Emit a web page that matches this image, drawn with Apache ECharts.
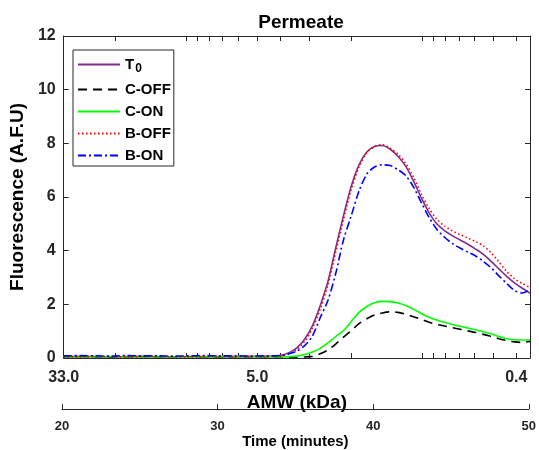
<!DOCTYPE html>
<html>
<head>
<meta charset="utf-8">
<script src="https://cdn.jsdelivr.net/npm/echarts@6/dist/echarts.min.js"></script>
<style>
html,body{margin:0;padding:0;background:#fff;}
#chart{width:539px;height:450px;}
</style>
</head>
<body>
<div id="chart"></div>
<script>
// Elution time (minutes)
var times = [20,21,22,23,24,25,26,27,28,29,30,31,32,33,
  33.5,34,34.5,35,35.5,36,36.5,37,37.5,38,38.5,39,39.5,40,40.5,41,41.5,42,42.5,43,43.5,44,44.5,45,45.5,46,46.5,47,47.5,48,48.5,49,49.5,50];

var seriesNames = ['T0','C-OFF','C-ON','B-OFF','B-ON'];

var T0 = [0.05,0.06,0.05,0.04,0.05,0.06,0.05,0.04,0.05,0.05,0.04,0.05,0.06,0.06,
  0.07,0.10,0.20,0.38,0.70,1.20,1.95,2.85,4.10,5.30,6.40,7.20,7.68,7.88,7.92,7.78,7.52,7.15,6.60,5.98,5.42,5.00,4.75,4.56,4.40,4.24,4.06,3.86,3.60,3.32,3.04,2.80,2.60,2.42];

var C_OFF = [0.03,0.04,0.03,0.03,0.04,0.03,0.03,0.04,0.03,0.03,0.04,0.03,0.03,0.03,
  0.03,0.03,0.03,0.03,0.04,0.06,0.16,0.30,0.52,0.78,1.02,1.28,1.46,1.60,1.68,1.72,1.70,1.63,1.54,1.44,1.33,1.25,1.19,1.13,1.07,1.01,0.95,0.88,0.80,0.72,0.65,0.60,0.58,0.62];

var C_ON = [0.04,0.03,0.04,0.05,0.04,0.03,0.04,0.04,0.03,0.04,0.05,0.04,0.04,0.04,
  0.04,0.04,0.05,0.07,0.13,0.22,0.36,0.56,0.80,1.02,1.36,1.70,1.92,2.06,2.11,2.10,2.05,1.96,1.82,1.66,1.52,1.42,1.33,1.25,1.18,1.12,1.05,0.98,0.90,0.80,0.72,0.68,0.67,0.67];

var B_OFF = [0.05,0.04,0.06,0.05,0.04,0.05,0.06,0.05,0.04,0.05,0.06,0.05,0.05,0.05,
  0.06,0.08,0.16,0.32,0.62,1.10,1.82,2.72,3.95,5.15,6.28,7.12,7.65,7.88,7.95,7.82,7.60,7.25,6.75,6.12,5.58,5.18,4.92,4.74,4.60,4.47,4.34,4.18,3.92,3.58,3.22,2.96,2.78,2.62];

var B_ON = [0.08,0.09,0.08,0.07,0.09,0.08,0.08,0.07,0.08,0.09,0.08,0.08,0.07,0.08,
  0.08,0.10,0.16,0.26,0.46,0.82,1.50,2.15,3.15,4.40,5.30,6.22,6.85,7.12,7.20,7.17,7.02,6.80,6.38,5.80,5.25,4.80,4.50,4.27,4.10,3.95,3.80,3.60,3.36,3.06,2.78,2.52,2.42,2.55];

// AMW (kDa) axis (log scale, reversed)
var amwRange = [33, 0.35];
var amwLabels = [33, 5, 0.4];
var amwTicks = [33,20,10,9,8,7,6,5,4,3,2,1,0.9,0.8,0.7,0.6,0.5,0.4];

// Time axis
var timeRange = [20, 50];
var timeInterval = 10;

// Fluorescence axis
var yRange = [0, 12];
var yInterval = 2;

var FONT = '"Liberation Sans", Arial, Helvetica, sans-serif';
var AX = '#262626';

function zip(xs, ys){ return xs.map(function(x,i){ return [x, ys[i]]; }); }
function lg(v){ return Math.log10(v); }

var styles = {
  'T0':    {color:'#7E2F8E', type:'solid', width:1.6},
  'C-OFF': {color:'#000000', type:[9,6], width:1.6},
  'C-ON':  {color:'#00FF00', type:'solid', width:1.6},
  'B-OFF': {color:'#FF0000', type:[1.5,2.5], width:1.6},
  'B-ON':  {color:'#0000FF', type:[8,3,2,3], width:1.6}
};
var dataMap = {'T0':T0,'C-OFF':C_OFF,'C-ON':C_ON,'B-OFF':B_OFF,'B-ON':B_ON};

var series = seriesNames.map(function(n){
  return {
    name: n, type: 'line', xAxisIndex: 0, yAxisIndex: 0,
    data: zip(times, dataMap[n]),
    smooth: 0.3, symbol: 'none', showSymbol: false,
    lineStyle: {color: styles[n].color, type: styles[n].type, width: styles[n].width},
    itemStyle: {color: styles[n].color},
    animation: false
  };
});

var amwAxisCommon = {
  gridIndex: 0, type: 'value', inverse: true,
  min: lg(amwRange[1]), max: lg(amwRange[0]),
  splitLine: {show:false},
  axisLine: {show:true, onZero:false, lineStyle:{color:AX, width:1}}
};

var option = {
  animation: false,
  backgroundColor: '#ffffff',
  title: {
    text: 'Permeate', left: 296, top: 8, textAlign: 'center',
    textStyle: {fontFamily: FONT, fontSize: 19, fontWeight: 'bold', color: '#000'}
  },
  legend: {
    orient: 'vertical', left: 73, top: 50,
    padding: [7, 3, 3, 4], itemGap: 7, itemWidth: 42, itemHeight: 14,
    borderColor: AX, borderWidth: 1, backgroundColor: '#fff',
    itemStyle: {opacity: 0},
    data: seriesNames,
    formatter: function(n){ return n === 'T0' ? '{b|T}{s|0}' : '{b|' + n + '}'; },
    textStyle: {
      fontFamily: FONT, fontSize: 15, fontWeight: 'bold', color: '#000',
      rich: {
        b: {fontFamily: FONT, fontSize: 15, fontWeight: 'bold', color: '#000'},
        s: {fontFamily: FONT, fontSize: 12, fontWeight: 'bold', color: '#000', padding: [9,0,0,1]}
      }
    }
  },
  grid: [
    {left: 62, right: 9, top: 36, bottom: 92, containLabel: false},
    {left: 62, right: 9, top: 395, bottom: 35, containLabel: false}
  ],
  xAxis: [
    {gridIndex: 0, type: 'value', min: timeRange[0], max: timeRange[1], show: false},
    Object.assign({}, amwAxisCommon, {
      position: 'bottom',
      axisTick: {show:true, inside:true, length:5, lineStyle:{color:AX}, customValues: amwTicks.map(lg)},
      axisLabel: {
        show: true, margin: 12, customValues: amwLabels.map(lg),
        formatter: function(v){ return Math.pow(10, v).toFixed(1); },
        fontFamily: FONT, fontSize: 16, fontWeight: 'bold', color: AX
      },
      name: 'AMW (kDa)', nameLocation: 'middle', nameGap: 35,
      nameTextStyle: {fontFamily: FONT, fontSize: 19, fontWeight: 'bold', color: '#000'}
    }),
    Object.assign({}, amwAxisCommon, {
      position: 'top',
      axisTick: {show:true, inside:true, length:5, lineStyle:{color:AX}, customValues: amwTicks.map(lg)},
      axisLabel: {show:false}
    }),
    {
      gridIndex: 1, type: 'value', min: timeRange[0], max: timeRange[1], interval: timeInterval,
      position: 'bottom',
      axisLine: {show:true, onZero:false, lineStyle:{color:AX, width:1}},
      axisTick: {show:true, inside:true, length:5, lineStyle:{color:AX}},
      axisLabel: {fontFamily: FONT, fontSize: 13, fontWeight: 'bold', color: AX, margin: 11},
      splitLine: {show:false},
      name: 'Time (minutes)', nameLocation: 'middle', nameGap: 19,
      nameTextStyle: {fontFamily: FONT, fontSize: 15, fontWeight: 'bold', color: '#000'}
    }
  ],
  yAxis: [
    {
      gridIndex: 0, type: 'value', min: yRange[0], max: yRange[1], interval: yInterval,
      position: 'left',
      axisLine: {show:true, onZero:false, lineStyle:{color:AX, width:1}},
      axisTick: {show:true, inside:true, length:5, lineStyle:{color:AX}},
      axisLabel: {fontFamily: FONT, fontSize: 16, fontWeight: 'bold', color: AX, margin: 8},
      splitLine: {show:false},
      name: 'Fluorescence (A.F.U)', nameLocation: 'middle', nameGap: 32,
      nameTextStyle: {fontFamily: FONT, fontSize: 19, fontWeight: 'bold', color: '#000'}
    },
    {
      gridIndex: 0, type: 'value', min: yRange[0], max: yRange[1], interval: yInterval,
      position: 'right',
      axisLine: {show:true, onZero:false, lineStyle:{color:AX, width:1}},
      axisTick: {show:true, inside:true, length:5, lineStyle:{color:AX}},
      axisLabel: {show:false},
      splitLine: {show:false}
    },
    {gridIndex: 1, type: 'value', show: false}
  ],
  series: series
};

var chart = echarts.init(document.getElementById('chart'), null, {renderer: 'canvas'});
chart.setOption(option);
</script>
</body>
</html>
